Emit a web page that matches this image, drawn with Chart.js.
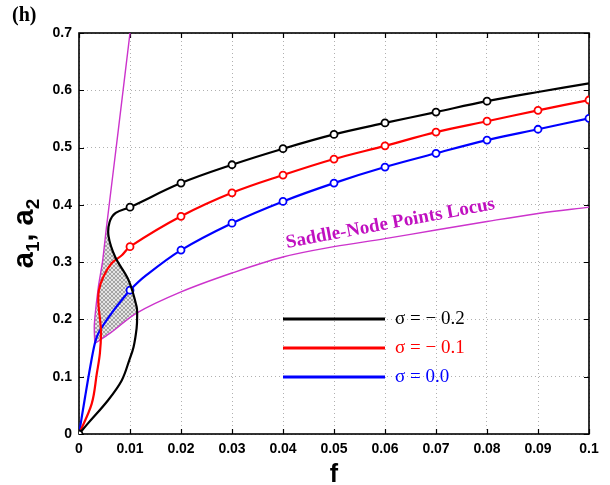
<!DOCTYPE html>
<html><head><meta charset="utf-8">
<script src="https://cdn.jsdelivr.net/npm/chart.js@4"></script>
<style>html,body{margin:0;padding:0;background:#fff}#wrap{width:610px;height:485px}</style>
</head><body><div id="wrap"><canvas id="c" width="610" height="485"></canvas></div>
<script>
// ---- data ----
const xTickValues = [0,0.01,0.02,0.03,0.04,0.05,0.06,0.07,0.08,0.09,0.1];
const xTickLabels = ['0','0.01','0.02','0.03','0.04','0.05','0.06','0.07','0.08','0.09','0.1'];
const yTickValues = [0,0.1,0.2,0.3,0.4,0.5,0.6,0.7];
const yTickLabels = ['0','0.1','0.2','0.3','0.4','0.5','0.6','0.7'];
const seriesLabels = ['\u03C3 = \u2212 0.2','\u03C3 = \u2212 0.1','\u03C3 = 0.0'];
const seriesColors = ['#000000','#ff0000','#0000ff'];

// sigma = -0.2
const fBlack = [0,0.0018,0.0057,0.0084,0.0099,0.0107,0.0113,0.0114,0.0113,0.0097,0.0071,0.0058,0.0060,0.0072,0.0100,0.02,0.03,0.04,0.05,0.06,0.07,0.08,0.09,0.1];
const aBlack = [0,0.019,0.059,0.094,0.130,0.152,0.185,0.205,0.222,0.269,0.309,0.345,0.370,0.386,0.396,0.438,0.470,0.498,0.523,0.543,0.562,0.581,0.597,0.612];
const markersBlack = [0,0.01,0.02,0.03,0.04,0.05,0.06,0.07,0.08];

// sigma = -0.1
const fRed = [0,0.0025,0.0035,0.0041,0.0043,0.0038,0.0039,0.0048,0.0064,0.0084,0.0100,0.02,0.03,0.04,0.05,0.06,0.07,0.08,0.09,0.1];
const aRed = [0,0.053,0.106,0.141,0.181,0.228,0.251,0.275,0.298,0.312,0.327,0.380,0.421,0.452,0.480,0.503,0.527,0.546,0.565,0.583];
const markersRed = [0.01,0.02,0.03,0.04,0.05,0.06,0.07,0.08,0.09,0.1];

// sigma = 0.0
const fBlue = [0,0.0012,0.0022,0.0031,0.0038,0.0064,0.0084,0.0100,0.0129,0.02,0.03,0.04,0.05,0.06,0.07,0.08,0.09,0.1];
const aBlue = [0,0.065,0.117,0.158,0.176,0.211,0.234,0.251,0.275,0.321,0.368,0.406,0.438,0.466,0.490,0.513,0.532,0.551];
const markersBlue = [0.01,0.02,0.03,0.04,0.05,0.06,0.07,0.08,0.09,0.1];

// saddle-node points locus (two branches meeting at cusp)
const fLocusUpper = [0.0100,0.0077,0.0054,0.0046,0.0038,0.0030,0.0031];
const aLocusUpper = [0.700,0.530,0.362,0.300,0.257,0.190,0.158];
const fLocusLower = [0.0031,0.0061,0.0113,0.020,0.030,0.040,0.050,0.060,0.070,0.080,0.090,0.100];
const aLocusLower = [0.158,0.176,0.211,0.248,0.281,0.309,0.327,0.341,0.356,0.371,0.385,0.396];

// hatched region boundary
const fHatch = [0.0031,0.0030,0.0038,0.0046,0.0055,0.0058,0.0071,0.0097,0.0113,0.0113,0.0061,0.0031];
const aHatch = [0.158,0.190,0.257,0.300,0.360,0.345,0.309,0.269,0.222,0.211,0.176,0.158];

// ---- helpers ----
const pts = (fs, as) => fs.map((f, i) => ({x: f, y: as[i]}));
const markerRadius = (list) => (ctx) => {
  const p = ctx.raw; if (!p) return 0;
  return list.some(m => Math.abs(m - p.x) < 1e-9) ? 3.5 : 0;
};

const canvas = document.getElementById('c');
const g = canvas.getContext('2d');
function makeHatch() {
  const c = document.createElement('canvas'); c.width = 4; c.height = 4;
  const h = c.getContext('2d');
  h.fillStyle = '#e4e4e4'; h.fillRect(0, 0, 4, 4);
  h.fillStyle = '#a4a4a4';
  for (let i = 0; i < 4; i++) { h.fillRect(i, i, 1, 1); h.fillRect(3 - i, i, 1, 1); }
  return g.createPattern(c, 'repeat');
}

const curve = (label, data, color, markers) => ({
  label, data, borderColor: color, borderWidth: 2.2, tension: 0.35,
  pointRadius: markerRadius(markers), pointHoverRadius: markerRadius(markers),
  pointBackgroundColor: '#ffffff', pointBorderColor: color, pointBorderWidth: 1.8,
  fill: false
});

const frame = {
  id: 'frame',
  beforeDatasetsDraw(chart) {
    const {ctx, chartArea: {left, right, top, bottom}} = chart;
    const xs = chart.scales.x, ys = chart.scales.y;
    ctx.save();
    ctx.strokeStyle = '#000'; ctx.lineWidth = 1.6; ctx.setLineDash([]);
    ctx.strokeRect(left, top, right - left, bottom - top);
    ctx.lineWidth = 1.2;
    ctx.beginPath();
    xTickValues.forEach(v => {
      const px = Math.round(xs.getPixelForValue(v)) + 0.5;
      ctx.moveTo(px, bottom); ctx.lineTo(px, bottom - 5);
      ctx.moveTo(px, top); ctx.lineTo(px, top + 5);
    });
    yTickValues.forEach(v => {
      const py = Math.round(ys.getPixelForValue(v)) + 0.5;
      ctx.moveTo(left, py); ctx.lineTo(left + 5, py);
      ctx.moveTo(right, py); ctx.lineTo(right - 5, py);
    });
    ctx.stroke();
    ctx.restore();
  },
  afterDraw(chart) {
    const {ctx, chartArea: {left, right, top, bottom}} = chart;
    ctx.save();
    // panel tag
    ctx.fillStyle = '#000';
    ctx.font = 'bold 20px "Liberation Serif"';
    ctx.textBaseline = 'alphabetic'; ctx.textAlign = 'left';
    ctx.fillText('(h)', 12, 21);
    // x title
    ctx.font = 'bold 25px "Liberation Sans"';
    ctx.textAlign = 'center';
    ctx.fillText('f', (left + right) / 2, 482);
    // y title with subscripts
    ctx.save();
    ctx.translate(33, (top + bottom) / 2);
    ctx.rotate(-Math.PI / 2);
    const big = 'bold 29px "Liberation Sans"', small = 'bold 19px "Liberation Sans"';
    const parts = [['a', big, 0], ['1', small, 6], [', ', big, 0], ['a', big, 0], ['2', small, 6]];
    let w = 0;
    parts.forEach(p => { ctx.font = p[1]; w += ctx.measureText(p[0]).width; });
    let x0 = -w / 2;
    ctx.textAlign = 'left';
    parts.forEach(p => { ctx.font = p[1]; ctx.fillText(p[0], x0, p[2]); x0 += ctx.measureText(p[0]).width; });
    ctx.restore();
    // legend
    const ly = [319, 348, 377];
    seriesLabels.forEach((lab, i) => {
      ctx.strokeStyle = seriesColors[i]; ctx.lineWidth = 3;
      ctx.beginPath(); ctx.moveTo(283, ly[i]); ctx.lineTo(385, ly[i]); ctx.stroke();
      ctx.fillStyle = seriesColors[i];
      ctx.font = '19px "Liberation Serif"';
      ctx.textAlign = 'left'; ctx.textBaseline = 'middle';
      ctx.fillText(lab, 395, ly[i]);
    });
    // locus annotation
    ctx.save();
    ctx.translate(287, 248);
    ctx.rotate(-10.6 * Math.PI / 180);
    ctx.fillStyle = '#c010c0';
    ctx.font = 'bold 19px "Liberation Serif"';
    ctx.textBaseline = 'alphabetic'; ctx.textAlign = 'left';
    ctx.fillText('Saddle-Node Points Locus', 0, 0);
    ctx.restore();
    ctx.restore();
  }
};

const tickFont = {family: '"Liberation Sans", Arial, sans-serif', weight: 'bold', size: 14};

new Chart(canvas, {
  type: 'line',
  data: {
    datasets: [
      curve(seriesLabels[0], pts(fBlack, aBlack), seriesColors[0], markersBlack),
      curve(seriesLabels[1], pts(fRed, aRed), seriesColors[1], markersRed),
      curve(seriesLabels[2], pts(fBlue, aBlue), seriesColors[2], markersBlue),
      {label: 'locus upper', data: pts(fLocusUpper, aLocusUpper), borderColor: '#cc33cc', borderWidth: 1.4, tension: 0.2, pointRadius: 0, fill: false},
      {label: 'locus lower', data: pts(fLocusLower, aLocusLower), borderColor: '#cc33cc', borderWidth: 1.4, tension: 0.35, pointRadius: 0, fill: false},
      {label: 'region', data: pts(fHatch, aHatch), borderColor: 'rgba(0,0,0,0)', borderWidth: 1, tension: 0, pointRadius: 0, fill: 'shape', backgroundColor: makeHatch()}
    ]
  },
  options: {
    responsive: false, animation: false, devicePixelRatio: 1,
    layout: {padding: {left: 0, right: 21, top: 33, bottom: 0}},
    plugins: {legend: {display: false}, tooltip: {enabled: false}},
    scales: {
      x: {
        type: 'linear', min: 0, max: 0.1,
        afterBuildTicks: s => { s.ticks = xTickValues.map(v => ({value: v})); },
        afterFit: s => { s.height = 51; },
        ticks: {callback: (v, i) => xTickLabels[i], font: tickFont, color: '#000', padding: 7, maxRotation: 0, autoSkip: false},
        grid: {color: '#b0b0b0', lineWidth: 1, drawTicks: false},
        border: {display: false, dash: [1, 3]}
      },
      y: {
        type: 'linear', min: 0, max: 0.7,
        afterBuildTicks: s => { s.ticks = yTickValues.map(v => ({value: v})); },
        afterFit: s => { s.width = 79; },
        ticks: {callback: (v, i) => yTickLabels[i], font: tickFont, color: '#000', padding: 7, autoSkip: false},
        grid: {color: '#b0b0b0', lineWidth: 1, drawTicks: false},
        border: {display: false, dash: [1, 3]}
      }
    }
  },
  plugins: [frame]
});
</script>
</body></html>
